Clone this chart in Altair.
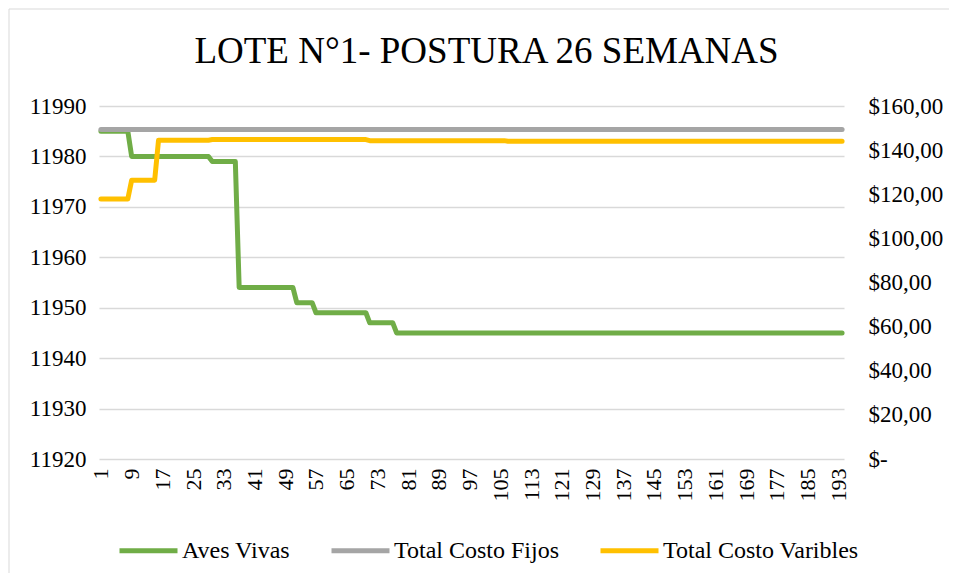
import altair as alt
import pandas as pd

# ---- data ----
days = list(range(1, 195))
series_names = ["Aves Vivas", "Total Costo Fijos", "Total Costo Varibles"]
series_colors = ["#70ad47", "#a5a5a5", "#ffc000"]

# run-length reading of the step lines (value, number of days)
aves_values = [11985, 11980, 11979, 11954, 11951, 11949, 11947, 11945]
aves_runs = [8, 21, 7, 15, 5, 14, 7, 117]
fijos_values = [149.4]
fijos_runs = [194]
variables_values = [117.8, 126.4, 144.5, 144.8, 144.3, 144.0]
variables_runs = [8, 7, 14, 41, 36, 88]

x_ticks = list(range(1, 195, 8))
left_ticks = [11920, 11930, 11940, 11950, 11960, 11970, 11980, 11990]
right_ticks = [0, 20, 40, 60, 80, 100, 120, 140, 160]
title_text = "LOTE N°1- POSTURA 26 SEMANAS"


def expand(values, runs):
    out = []
    for v, n in zip(values, runs):
        out += [v] * n
    return out


rows = []
for name, vals, runs in [
    (series_names[0], aves_values, aves_runs),
    (series_names[1], fijos_values, fijos_runs),
    (series_names[2], variables_values, variables_runs),
]:
    for d, v in zip(days, expand(vals, runs)):
        rows.append({"dia": d, "serie": name, "valor": v})
df = pd.DataFrame(rows)

FONT = "Liberation Serif, Times New Roman, serif"

x_enc = alt.X(
    "dia:Q",
    scale=alt.Scale(domain=[0.5, 194.5], nice=False, zero=False),
    axis=alt.Axis(
        values=x_ticks, title=None, grid=False, domain=False, ticks=False,
        labelAngle=270, labelAlign="right", labelBaseline="middle",
        labelFont=FONT, labelColor="black",
        labelFontSize=22, labelPadding=9, labelFlush=False, labelOverlap=False,
    ),
)

color_enc = alt.Color(
    "serie:N",
    scale=alt.Scale(domain=series_names, range=series_colors),
    sort=series_names,
    legend=alt.Legend(
        title=None, orient="none", direction="horizontal",
        legendX=18, legendY=413, padding=0,
        symbolType="stroke", symbolSize=3364, symbolStrokeWidth=5,
        labelFont=FONT, labelFontSize=24, labelColor="black",
        labelOffset=2, columnPadding=30, labelLimit=400,
    ),
)

line_style = dict(strokeWidth=5, strokeCap="round", strokeJoin="round")

base = alt.Chart(df)

left = base.transform_filter(alt.datum.serie == series_names[0]).mark_line(**line_style).encode(
    x=x_enc,
    y=alt.Y(
        "valor:Q",
        scale=alt.Scale(domain=[11920, 11990], nice=False, zero=False),
        axis=alt.Axis(
            orient="left", values=left_ticks, title=None, grid=True, format="d",
            domain=False, ticks=False, labelPadding=13, labelFontSize=23,
            labelFont=FONT, labelColor="black",
        ),
    ),
    color=color_enc,
)

right = base.transform_filter(alt.datum.serie != series_names[0]).mark_line(**line_style).encode(
    x=x_enc,
    y=alt.Y(
        "valor:Q",
        scale=alt.Scale(domain=[0, 160], nice=False),
        axis=alt.Axis(
            orient="right", values=right_ticks, title=None, grid=False,
            domain=False, ticks=False, labelPadding=24, labelFontSize=23,
            labelFont=FONT, labelColor="black",
            labelExpr="datum.value == 0 ? '$-' : '$' + replace(format(datum.value, '.2f'), '.', ',')",
        ),
    ),
    color=color_enc,
)

border_v = alt.Chart(alt.Data(values=[{}])).mark_rule(color="#d9d9d9", strokeWidth=1).encode(
    x=alt.value(-90), y=alt.value(-97), y2=alt.value(700)
)
border_h = alt.Chart(alt.Data(values=[{}])).mark_rule(color="#d9d9d9", strokeWidth=1).encode(
    x=alt.value(-90), x2=alt.value(1000), y=alt.value(-97)
)

chart = (
    alt.layer(left, right, border_v, border_h)
    .resolve_scale(y="independent")
    .properties(
        width=745,
        height=353,
        autosize=alt.AutoSizeParams(type="none"),
        padding={"left": 91, "top": 98, "right": 105, "bottom": 114},
        title=alt.TitleParams(
            title_text, font=FONT, fontSize=37, fontWeight="normal",
            color="black", anchor="middle", dx=15, baseline="alphabetic",
            offset=-91,
        ),
    )
    .configure_view(stroke=None)
    .configure_axis(labelFont=FONT, labelColor="black", gridColor="#d9d9d9", gridWidth=1.3)
    .configure_legend(labelFont=FONT)
)

chart.save("out.html", embed_options={"renderer": "svg", "actions": False})
